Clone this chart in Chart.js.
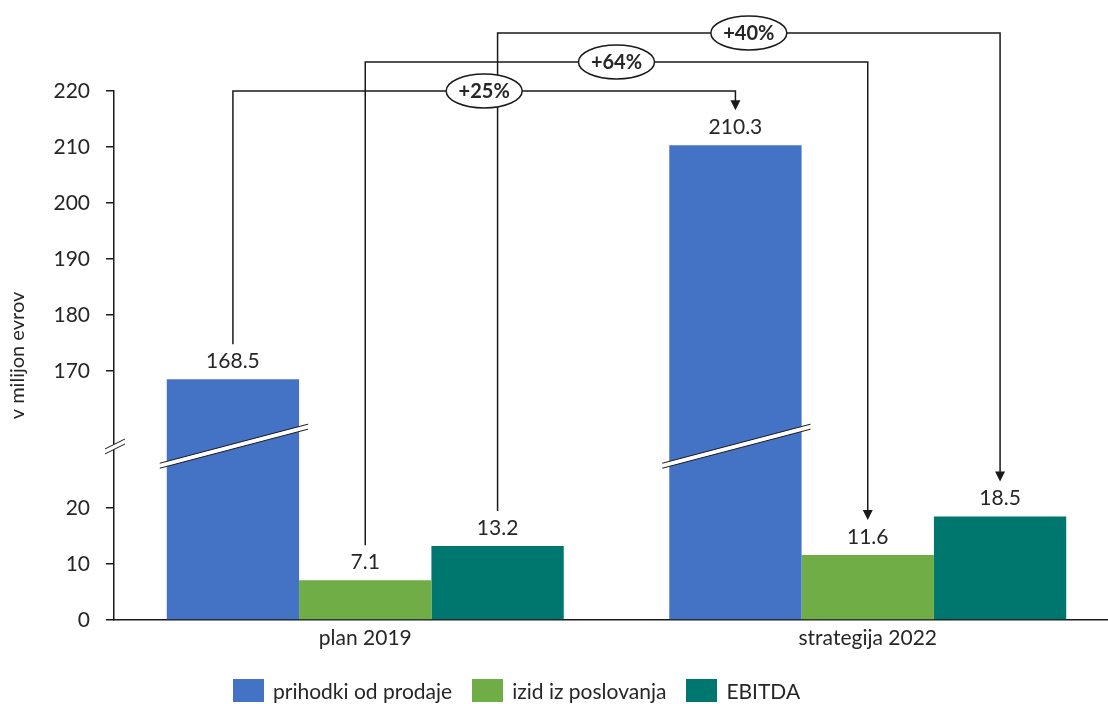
<!DOCTYPE html>
<html>
<head>
<meta charset="utf-8">
<script src="https://cdn.jsdelivr.net/npm/chart.js@4.4.1/dist/chart.umd.min.js"></script>
<style>
    html, body { margin: 0; padding: 0; background: #fff; overflow: hidden; }
    #wrap { position: relative; width: 1120px; height: 704px; }
    #legend {
        position: absolute; left: 233px; top: 678px;
        display: flex; align-items: center;
        font-family: Lato, 'Open Sans', sans-serif; font-size: 21px; color: #262626;
    }
    .lg-item { display: flex; align-items: center; margin-right: 20px; }
    .lg-box { width: 31px; height: 23px; margin-right: 9px; }
</style>
</head>
<body>
<div id="wrap">
    <canvas id="chart" width="1120" height="704"></canvas>
    <div id="legend"></div>
</div>
<script>
// === データ ===
const categories = ['plan 2019', 'strategija 2022'];
const seriesNames = ['prihodki od prodaje', 'izid iz poslovanja', 'EBITDA'];
const seriesColors = ['#4472C4', '#70AD47', '#00776E'];
const prihodki = [168.5, 210.3];
const izid = [7.1, 11.6];
const ebitda = [13.2, 18.5];
const growthLabels = ['+25%', '+64%', '+40%'];
const lowerTicks = [0, 10, 20];
const upperTicks = [170, 180, 190, 200, 210, 220];

// 軸の切れ目: 上段の値はこの分だけ下げて描く
const BREAK_SHIFT = 125.5;
const BREAK_MID = 31;   // 切れ目マークの位置 (変換後の値)
const toAxis = v => (v > 100 ? v - BREAK_SHIFT : v);
const fromAxis = v => (v > 25 ? Math.round(v + BREAK_SHIFT) : Math.round(v));

const FONT = "Lato, 'Open Sans', sans-serif";
const TEXT = '#262626';
const LINE = '#1a1a1a';

Chart.defaults.font.family = FONT;
Chart.defaults.font.size = 21;
Chart.defaults.color = TEXT;

const rawSeries = [prihodki, izid, ebitda];

// === 凡例 (HTML) ===
const legend = document.getElementById('legend');
seriesNames.forEach((name, i) => {
    const item = document.createElement('div');
    item.className = 'lg-item';
    item.innerHTML = `<span class="lg-box" style="background:${seriesColors[i]}"></span><span>${name}</span>`;
    legend.appendChild(item);
});

// === 切れ目・ラベル・矢印の描画 ===
const overlay = {
    id: 'overlay',
    afterDatasetsDraw(chart) {
        const ctx = chart.ctx;
        const y = chart.scales.y;
        const yMid = y.getPixelForValue(BREAK_MID);

        // 棒の切れ目
        chart.getDatasetMeta(0).data.forEach(bar => {
            const half = bar.width / 2;
            const x0 = bar.x - half - 7, x1 = bar.x + half + 9;
            const slope = -39 / 148;
            const y0 = yMid - slope * (bar.x - x0);
            const y1 = yMid + slope * (x1 - bar.x);
            drawBreak(ctx, x0, y0, x1, y1, 5);
        });

        // 軸の切れ目
        const ax = chart.chartArea.left;
        drawBreak(ctx, ax - 9, yMid + 5, ax + 11, yMid - 5, 5);

        // 値ラベル
        ctx.save();
        ctx.font = `21px ${FONT}`;
        ctx.fillStyle = TEXT;
        ctx.textAlign = 'center';
        ctx.textBaseline = 'middle';
        rawSeries.forEach((vals, di) => {
            chart.getDatasetMeta(di).data.forEach((bar, ci) => {
                ctx.fillText(vals[ci].toFixed(1), bar.x, bar.y - 18);
            });
        });
        ctx.restore();
    },
    afterDraw(chart) {
        const ctx = chart.ctx;
        const top = chart.chartArea.top;
        const spots = [];
        ctx.save();
        ctx.strokeStyle = LINE;
        ctx.fillStyle = LINE;
        ctx.lineWidth = 1.5;
        rawSeries.forEach((vals, di) => {
            const meta = chart.getDatasetMeta(di);
            const a = meta.data[0], b = meta.data[1];
            const level = top - di * 29;
            const ya = a.y - 35, yb = b.y - 35;
            ctx.beginPath();
            ctx.moveTo(a.x, ya);
            ctx.lineTo(a.x, level);
            ctx.lineTo(b.x, level);
            ctx.lineTo(b.x, yb - 9);
            ctx.stroke();
            ctx.beginPath();
            ctx.moveTo(b.x - 5, yb - 10);
            ctx.lineTo(b.x + 5, yb - 10);
            ctx.lineTo(b.x, yb);
            ctx.closePath();
            ctx.fill();
            spots.push({ x: (a.x + b.x) / 2, y: level, text: growthLabels[di] });
        });
        spots.forEach(s => {
            ctx.beginPath();
            ctx.ellipse(s.x, s.y, 38, 17, 0, 0, Math.PI * 2);
            ctx.fillStyle = '#fff';
            ctx.fill();
            ctx.stroke();
            ctx.fillStyle = TEXT;
            ctx.font = `bold 20px ${FONT}`;
            ctx.textAlign = 'center';
            ctx.textBaseline = 'middle';
            ctx.fillText(s.text, s.x, s.y + 1);
        });
        ctx.restore();
    }
};

function drawBreak(ctx, x0, y0, x1, y1, gap) {
    ctx.save();
    ctx.beginPath();
    ctx.moveTo(x0, y0 - gap / 2);
    ctx.lineTo(x1, y1 - gap / 2);
    ctx.lineTo(x1, y1 + gap / 2);
    ctx.lineTo(x0, y0 + gap / 2);
    ctx.closePath();
    ctx.fillStyle = '#fff';
    ctx.fill();
    ctx.strokeStyle = LINE;
    ctx.lineWidth = 1;
    ctx.beginPath();
    ctx.moveTo(x0, y0 - gap / 2);
    ctx.lineTo(x1, y1 - gap / 2);
    ctx.moveTo(x0, y0 + gap / 2);
    ctx.lineTo(x1, y1 + gap / 2);
    ctx.stroke();
    ctx.restore();
}

// === チャート ===
new Chart(document.getElementById('chart'), {
    type: 'bar',
    data: {
        labels: categories,
        datasets: rawSeries.map((vals, i) => ({
            label: seriesNames[i],
            data: vals.map(toAxis),
            backgroundColor: seriesColors[i],
            borderWidth: 0,
            categoryPercentage: 0.79,
            barPercentage: 1.0,
        })),
    },
    options: {
        responsive: false,
        animation: false,
        layout: { padding: { top: 91, right: 1, left: 0, bottom: 0 } },
        plugins: {
            legend: { display: false },
            tooltip: { enabled: false },
        },
        scales: {
            x: {
                grid: { display: false, drawTicks: false },
                border: { color: LINE, width: 1.5 },
                ticks: { padding: 6, color: TEXT },
                afterFit: s => { s.height = 84; },
            },
            y: {
                min: 0,
                max: toAxis(upperTicks[upperTicks.length - 1]),
                grid: { display: true, drawOnChartArea: false, tickLength: 8, color: LINE, lineWidth: 1.5 },
                border: { color: LINE, width: 1.5 },
                afterBuildTicks: s => {
                    s.ticks = lowerTicks.concat(upperTicks).map(v => ({ value: toAxis(v) }));
                },
                ticks: { padding: 16, color: TEXT, callback: v => fromAxis(v) },
                title: {
                    display: true,
                    text: 'v milijon evrov',
                    color: TEXT,
                    font: { size: 20 },
                    padding: { top: 6, bottom: 0 },
                },
                afterFit: s => { s.width = 114; },
            },
        },
    },
    plugins: [overlay],
});
</script>
</body>
</html>
